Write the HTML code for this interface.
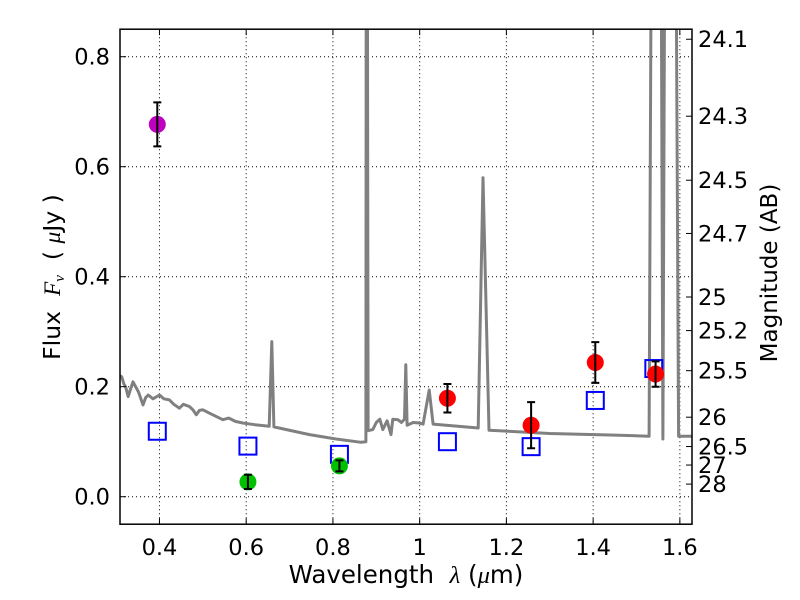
<!DOCTYPE html>
<html><head><meta charset="utf-8"><style>
body{margin:0;background:#fff}
svg{display:block}
text{font-family:"DejaVu Sans","Liberation Sans",sans-serif;fill:#000}
</style></head><body>
<svg id="chart" width="800" height="600" viewBox="0 0 800 600" xmlns="http://www.w3.org/2000/svg"></svg>
<script>
// ---- data ----
const modelWave = [0.309,0.313,0.318,0.322,0.328,0.333,0.339,0.345,0.352,0.362,0.368,0.374,0.385,0.4,0.41,0.423,0.433,0.446,0.455,0.469,0.477,0.485,0.492,0.5,0.52,0.546,0.56,0.575,0.592,0.62,0.653,0.659,0.664,0.746,0.807,0.865,0.876,0.877,0.879,0.881,0.892,0.9,0.908,0.915,0.925,0.934,0.938,0.95,0.958,0.965,0.968,0.971,0.985,0.999,1.008,1.022,1.031,1.135,1.146,1.16,1.3,1.45,1.529,1.535,1.556,1.561,1.566,1.59,1.597,1.63];
const modelFlux = [0.22,0.218,0.205,0.2,0.182,0.195,0.209,0.2,0.19,0.167,0.18,0.185,0.178,0.185,0.178,0.176,0.168,0.161,0.168,0.164,0.158,0.149,0.157,0.158,0.15,0.14,0.143,0.137,0.134,0.131,0.128,0.282,0.127,0.113,0.105,0.099,0.1,1.2,1.2,0.12,0.122,0.135,0.141,0.122,0.138,0.113,0.141,0.14,0.135,0.141,0.24,0.13,0.135,0.134,0.132,0.194,0.132,0.125,0.58,0.121,0.115,0.112,0.11,1.2,1.2,0.105,1.2,1.2,0.11,0.11];
const obsWave = [0.395,0.604,0.815,1.064,1.257,1.405,1.544];
const obsFlux = [0.677,0.027,0.056,0.179,0.130,0.244,0.223];
const obsErr  = [0.04,0.013,0.01,0.026,0.042,0.037,0.023];
const obsColor = ['#bf00bf','#00c000','#00c000','#ff0000','#ff0000','#ff0000','#ff0000'];
const synWave = [0.395,0.604,0.815,1.064,1.257,1.405,1.54];
const synFlux = [0.119,0.092,0.077,0.100,0.091,0.175,0.233];
const xTicks = [0.4,0.6,0.8,1.0,1.2,1.4,1.6];
const xTickLabels = ['0.4','0.6','0.8','1','1.2','1.4','1.6'];
const yTicks = [0,0.2,0.4,0.6,0.8];
const yTickLabels = ['0.0','0.2','0.4','0.6','0.8'];
const magTicks = [24.1,24.3,24.5,24.7,25,25.2,25.5,26,26.5,27,28];
const magTickLabels = ['24.1','24.3','24.5','24.7','25','25.2','25.5','26','26.5','27','28'];

const L=120,R=692,T=29.2,B=524.2;
const xmin=0.309,xmax=1.628,ymin=-0.05,ymax=0.85;
const sx=v=>L+(v-xmin)/(xmax-xmin)*(R-L);
const sy=v=>B-(v-ymin)/(ymax-ymin)*(B-T);
const svg=document.getElementById('chart');
const NS='http://www.w3.org/2000/svg';
function mk(tag,attrs,parent){const e=document.createElementNS(NS,tag);for(const k in attrs)e.setAttribute(k,attrs[k]);(parent||svg).appendChild(e);return e;}

const defs=mk('defs',{});
const cp=mk('clipPath',{id:'clip'},defs);
mk('rect',{x:L,y:T,width:R-L,height:B-T},cp);

const grid=mk('g',{});


xTicks.forEach(v=>{mk('line',{x1:sx(v),x2:sx(v),y1:T,y2:B,stroke:'#000','stroke-width':1,'stroke-dasharray':'1,3'},grid);});
yTicks.forEach(v=>{mk('line',{x1:L,x2:R,y1:sy(v),y2:sy(v),stroke:'#000','stroke-width':1,'stroke-dasharray':'1,3'},grid);});

const g=mk('g',{'clip-path':'url(#clip)'});
let d='';modelWave.forEach((w,i)=>{d+=(i?'L':'M')+sx(w).toFixed(1)+','+sy(modelFlux[i]).toFixed(1);});
const mline=mk('path',{d:d,fill:'none',stroke:'#808080','stroke-width':3,'stroke-linejoin':'round'},g);



synWave.forEach((w,i)=>{
  const r=mk('rect',{x:sx(w)-8.5,y:sy(synFlux[i])-8.5,width:17,height:17,fill:'none',stroke:'#0000ff','stroke-width':2},g);
  
  
});
obsWave.forEach((w,i)=>{
  const c=mk('circle',{cx:sx(w),cy:sy(obsFlux[i]),r:8.5,fill:obsColor[i]},g);
  
  
  const x=sx(w),y1=sy(obsFlux[i]+obsErr[i]),y2=sy(obsFlux[i]-obsErr[i]);
  const eb=mk('path',{d:`M${x},${y1}L${x},${y2}M${x-4},${y1}L${x+4},${y1}M${x-4},${y2}L${x+4},${y2}`,stroke:'#000','stroke-width':2,fill:'none'},g);
  
  
});

const fr=mk('rect',{x:L,y:T,width:R-L,height:B-T,fill:'none',stroke:'#000','stroke-width':1.5});



xTicks.forEach((v,i)=>{
  mk('line',{x1:sx(v),x2:sx(v),y1:B,y2:B-6,stroke:'#000'});
  mk('line',{x1:sx(v),x2:sx(v),y1:T,y2:T+6,stroke:'#000'});
  const t=mk('text',{x:sx(v),y:B+31,'text-anchor':'middle','font-size':22.5});
  t.textContent=xTickLabels[i];
  
  
});
yTicks.forEach((v,i)=>{
  mk('line',{x1:L,x2:L+6,y1:sy(v),y2:sy(v),stroke:'#000'});
  const t=mk('text',{x:L-10,y:sy(v)+8,'text-anchor':'end','font-size':22.5});
  t.textContent=yTickLabels[i];
  
  
});
magTicks.forEach((m,i)=>{
  const y=sy(Math.pow(10,(23.9-m)/2.5));
  mk('line',{x1:R,x2:R-6,y1:y,y2:y,stroke:'#000'});
  const t=mk('text',{x:R+6,y:y+8,'font-size':22.5});
  t.textContent=magTickLabels[i];
  
  
});

const xl=mk('text',{x:406,y:583,'text-anchor':'middle','font-size':24.5});
xl.innerHTML='Wavelength &#160;<tspan font-style="italic" font-family="Liberation Serif">λ</tspan> (<tspan font-style="italic" font-family="Liberation Serif">μ</tspan>m)';


const yl=mk('text',{x:0,y:0,'text-anchor':'middle','font-size':23.5,transform:'translate(60,277) rotate(-90)'});
yl.innerHTML='Flux &#160;<tspan font-style="italic" font-family="Liberation Serif">F</tspan><tspan font-style="italic" font-family="Liberation Serif" font-size="15" dy="4">ν</tspan><tspan dy="-4"> &#160;( </tspan><tspan font-style="italic" font-family="Liberation Serif">μ</tspan>Jy )';


const rl=mk('text',{x:0,y:0,'text-anchor':'middle','font-size':23,transform:'translate(777,273) rotate(-90)'});
rl.textContent='Magnitude (AB)';


</script>
</body></html>
